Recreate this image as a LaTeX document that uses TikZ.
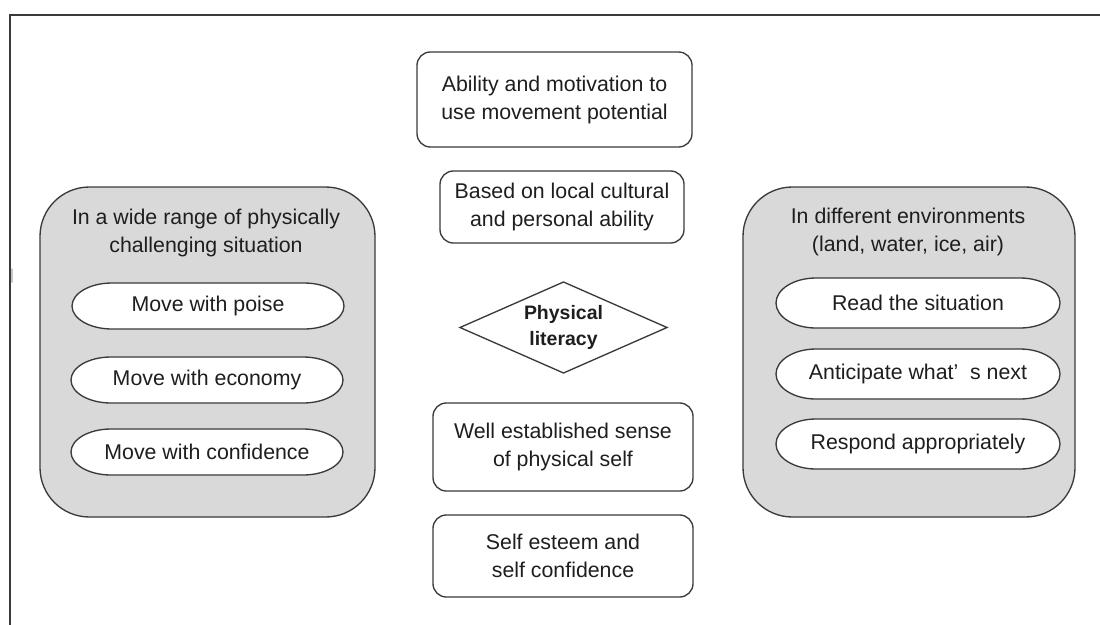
\documentclass[tikz,border=0pt]{standalone}
\usepackage{fontspec}
\setmainfont{Liberation Sans}
\usetikzlibrary{calc}

\pgfdeclarelayer{back}
\pgfdeclarelayer{pills}
\pgfsetlayers{back,pills,main}

\definecolor{ink}{HTML}{1E1E1E}
\definecolor{edge}{HTML}{3A3A3A}
\definecolor{panel}{HTML}{D9D9D9}

\tikzset{
  every node/.style={text=ink, font=\fontsize{16}{21}\selectfont, align=center,
    inner sep=0pt, outer sep=0pt},
  panelbox/.style={draw=edge, fill=panel, line width=1pt, rounded corners=37pt},
  infobox/.style={draw=edge, fill=white, line width=1pt, rounded corners=10pt},
  pillline/.style={draw=edge, fill=white, line width=1pt},
  keytext/.style={font=\bfseries\fontsize{14.6}{20}\selectfont},
  frameline/.style={draw=edge, line width=1.5pt},
  leftpill/.style={minimum width={272*0.75pt}, minimum height={46*0.75pt}},
  rightpill/.style={minimum width={284*0.75pt}, minimum height={50*0.75pt}},
}

% outline with half-ellipse ends around a node: name, x radius, y radius
\newcommand{\pillshape}[3]{%
  \draw[pillline] ($(#1.north west)+(#2,0pt)$) -- ($(#1.north east)+(-#2,0pt)$)
    arc[start angle=90, end angle=-90, x radius=#2, y radius=#3]
    -- ($(#1.south west)+(#2,0pt)$)
    arc[start angle=270, end angle=90, x radius=#2, y radius=#3] -- cycle;}

\begin{document}
\begin{tikzpicture}[x=0.75pt, y=-0.75pt]
  \useasboundingbox (0,0) rectangle (1100,625);

  % page frame
  \coordinate (fa) at (10,625);
  \coordinate (fb) at (10,15);
  \coordinate (fc) at (1100,15);
  \draw[frameline] (fa) -- (fb) -- (fc);
  \draw[gray!45, line width=1.5pt, line cap=round] (12,269) -- (12,282);

  % side panels
  \begin{pgfonlayer}{back}
    \node[panelbox, minimum width={335*0.75pt}, minimum height={330*0.75pt}] (lp) at (207.5,352) {};
    \node[panelbox, minimum width={332*0.75pt}, minimum height={330*0.75pt}] (rp) at (909,352) {};
  \end{pgfonlayer}

  \node (lt) at (206,233) {In a wide range of physically\\challenging situation};
  \node (rt) at (908,232) {In different environments\\(land, water, ice, air)};

  % left items
  \node[leftpill] (l1) at (208,306) {Move with poise};
  \node[leftpill] (l2) at (207,380) {Move with economy};
  \node[leftpill] (l3) at (207,452) {Move with confidence};

  % right items
  \node[rightpill] (r1) at (918,303) {Read the situation};
  \node[rightpill] (r2) at (918,374) {Anticipate what’\hspace{0.55em}s next};
  \node[rightpill] (r3) at (918,444) {Respond appropriately};

  % centre column
  \node[infobox, minimum width={275*0.75pt}, minimum height={95*0.75pt}] (c1) at (554.5,99.5)
    {Ability and motivation to\\use movement potential};
  \node[infobox, minimum width={244*0.75pt}, minimum height={72*0.75pt}] (c2) at (562,207)
    {Based on local cultural\\and personal ability};
  \node[keytext, minimum width={207*0.75pt}, minimum height={91*0.75pt}] (pl) at (563.5,327.5)
    {Physical\\literacy};
  \node[infobox, minimum width={260*0.75pt}, minimum height={88*0.75pt}] (c3) at (563,447)
    {Well established sense\\of physical self};
  \node[infobox, minimum width={260*0.75pt}, minimum height={82*0.75pt}] (c4) at (563,556)
    {Self esteem and\\self confidence};

  \begin{pgfonlayer}{pills}
    \pillshape{l1}{30pt}{17.25pt}
    \pillshape{l2}{30pt}{17.25pt}
    \pillshape{l3}{30pt}{17.25pt}
    \pillshape{r1}{30pt}{18.75pt}
    \pillshape{r2}{30pt}{18.75pt}
    \pillshape{r3}{30pt}{18.75pt}
    \draw[pillline] (pl.north) -- (pl.east) -- (pl.south) -- (pl.west) -- cycle;
  \end{pgfonlayer}
\end{tikzpicture}
\end{document}
